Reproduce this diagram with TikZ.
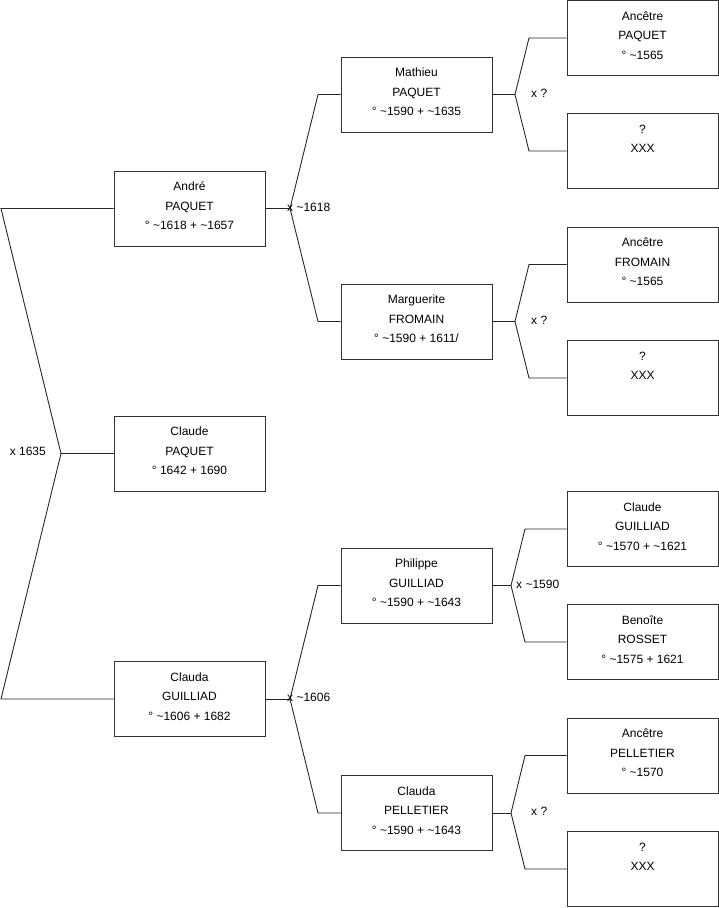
\documentclass[tikz,border=0pt]{standalone}
\usepackage{fontspec}
\setmainfont{Liberation Sans}
\newcommand\dnstrut{\rule[-5pt]{0pt}{5pt}}
\begin{document}
\begin{tikzpicture}[x=1pt,y=-1pt,
  person/.style={draw=black!80, line width=0.8pt, fill=white, rectangle, minimum width=151pt, minimum height=75pt, align=center, inner sep=0pt, font=\fontsize{12}{19.5}\selectfont},
  link/.style={draw=black!85, line width=0.9pt},
  lbl/.style={inner sep=0pt, anchor=west, font=\fontsize{12}{14}\selectfont}]
\useasboundingbox (0,0) rectangle (719,908);
% generation 1
\node[person] (andre) at (189.5,208.5) {André\\PAQUET\\° \textasciitilde 1618 + \textasciitilde 1657\dnstrut};
\node[person] (claude) at (189.5,453.5) {Claude\\PAQUET\\° 1642 + 1690\dnstrut};
\node[person] (clauda) at (189.5,699) {Clauda\\GUILLIAD\\° \textasciitilde 1606 + 1682\dnstrut};
% generation 2
\node[person] (mathieu) at (416.5,94.5) {Mathieu\\PAQUET\\° \textasciitilde 1590 + \textasciitilde 1635\dnstrut};
\node[person] (marguerite) at (416.5,321.5) {Marguerite\\FROMAIN\\° \textasciitilde 1590 + 1611/\dnstrut};
\node[person] (philippe) at (416.5,585.5) {Philippe\\GUILLIAD\\° \textasciitilde 1590 + \textasciitilde 1643\dnstrut};
\node[person] (pelletier) at (416.5,813) {Clauda\\PELLETIER\\° \textasciitilde 1590 + \textasciitilde 1643\dnstrut};
% generation 3
\node[person] (r1) at (642.5,38) {Ancêtre\\PAQUET\\° \textasciitilde 1565\dnstrut};
\node[person] (r2) at (642.5,151) {?\\XXX\\\dnstrut};
\node[person] (r3) at (642.5,264.5) {Ancêtre\\FROMAIN\\° \textasciitilde 1565\dnstrut};
\node[person] (r4) at (642.5,378) {?\\XXX\\\dnstrut};
\node[person] (r5) at (642.5,529) {Claude\\GUILLIAD\\° \textasciitilde 1570 + \textasciitilde 1621\dnstrut};
\node[person] (r6) at (642.5,642) {Benoîte\\ROSSET\\° \textasciitilde 1575 + 1621\dnstrut};
\node[person] (r7) at (642.5,755.5) {Ancêtre\\PELLETIER\\° \textasciitilde 1570\dnstrut};
\node[person] (r8) at (642.5,869) {?\\XXX\\\dnstrut};
% junction points
\coordinate (j0) at (61,453.5);
\coordinate (a0) at (1,208.5);
\coordinate (b0) at (1,699);
\coordinate (j1) at (290,208.5);
\coordinate (a1) at (318,94.5);
\coordinate (b1) at (318,321.5);
\coordinate (j2) at (290,699);
\coordinate (a2) at (318,585.5);
\coordinate (b2) at (318,813);
\coordinate (j3) at (515,94.5);
\coordinate (a3) at (529,38);
\coordinate (b3) at (529,151);
\coordinate (j4) at (515,321.5);
\coordinate (a4) at (529,264.5);
\coordinate (b4) at (529,378);
\coordinate (j5) at (511,585.5);
\coordinate (a5) at (525,529);
\coordinate (b5) at (525,642);
\coordinate (j6) at (511,813);
\coordinate (a6) at (525,755.5);
\coordinate (b6) at (525,869);
% connectors
\draw[link] (andre.west) -- (a0) -- (j0) -- (b0) -- (clauda.west);
\draw[link] (j0) -- (claude.west);
\draw[link] (andre.east) -- (j1);
\draw[link] (j1) -- (a1) -- (mathieu.west);
\draw[link] (j1) -- (b1) -- (marguerite.west);
\draw[link] (clauda.east) -- (j2);
\draw[link] (j2) -- (a2) -- (philippe.west);
\draw[link] (j2) -- (b2) -- (pelletier.west);
\draw[link] (mathieu.east) -- (j3);
\draw[link] (j3) -- (a3) -- (r1.west);
\draw[link] (j3) -- (b3) -- (r2.west);
\draw[link] (marguerite.east) -- (j4);
\draw[link] (j4) -- (a4) -- (r3.west);
\draw[link] (j4) -- (b4) -- (r4.west);
\draw[link] (philippe.east) -- (j5);
\draw[link] (j5) -- (a5) -- (r5.west);
\draw[link] (j5) -- (b5) -- (r6.west);
\draw[link] (pelletier.east) -- (j6);
\draw[link] (j6) -- (a6) -- (r7.west);
\draw[link] (j6) -- (b6) -- (r8.west);
% labels
\node[lbl, anchor=east] (m0) at (46,451.5) {x 1635};
\node[lbl] (m1) at (287,207) {x \textasciitilde 1618};
\node[lbl] (m2) at (287,697.5) {x \textasciitilde 1606};
\node[lbl] (m3) at (531,93) {x ?};
\node[lbl] (m4) at (531,320) {x ?};
\node[lbl] (m5) at (516,584) {x \textasciitilde 1590};
\node[lbl] (m6) at (531,811.5) {x ?};
\end{tikzpicture}
\end{document}
